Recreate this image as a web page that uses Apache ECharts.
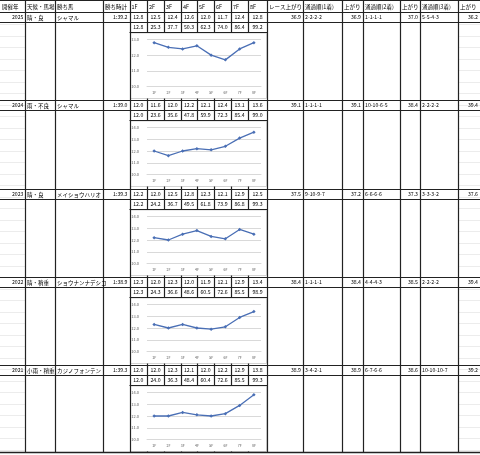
<!DOCTYPE html>
<html><head><meta charset="utf-8">
<script src="https://cdn.jsdelivr.net/npm/echarts@6/dist/echarts.min.js"></script>
<style>html,body{margin:0;padding:0;background:#fff}#c{width:480px;height:455px}</style>
</head><body><div id="c"></div>
<script>
const years = ['2025','2024','2023','2022','2021'];
const weather = ['晴・良','雨・不良','晴・良','晴・稍重','小雨・稍重'];
const winners = ['シャマル','シャマル','メイショウハリオ','ショウナンナデシコ','カジノフォンテン'];
const times = ['1:39.2','1:39.0','1:39.3','1:38.9','1:39.3'];
const lapLabels = ['1F','2F','3F','4F','5F','6F','7F','8F'];
const laps2025 = [12.8,12.5,12.4,12.6,12.0,11.7,12.4,12.8];
const laps2024 = [12.0,11.6,12.0,12.2,12.1,12.4,13.1,13.6];
const laps2023 = [12.2,12.0,12.5,12.8,12.3,12.1,12.9,12.5];
const laps2022 = [12.3,12.0,12.3,12.0,11.9,12.1,12.9,13.4];
const laps2021 = [12.0,12.0,12.3,12.1,12.0,12.2,12.9,13.8];
const cum2025 = ['12.8','25.3','37.7','50.3','62.3','74.0','86.4','99.2'];
const cum2024 = ['12.0','23.6','35.6','47.8','59.9','72.3','85.4','99.0'];
const cum2023 = ['12.2','24.2','36.7','49.5','61.8','73.9','86.8','99.3'];
const cum2022 = ['12.3','24.3','36.6','48.6','60.5','72.6','85.5','98.9'];
const cum2021 = ['12.0','24.0','36.3','48.4','60.4','72.6','85.5','99.3'];
const raceLast3F = ['36.9','39.1','37.5','38.4','38.9'];
const pass1 = ['2-2-2-2','1-1-1-1','9-10-9-7','1-1-1-1','3-4-2-1'];
const last1 = ['36.9','39.1','37.2','38.4','38.9'];
const pass2 = ['1-1-1-1','10-10-6-5','6-6-6-6','4-4-4-3','6-7-6-6'];
const last2 = ['37.0','38.4','37.3','38.5','38.6'];
const pass3 = ['5-5-4-3','2-2-2-2','3-3-3-2','2-2-2-2','10-10-10-7'];
const last3 = ['36.2','39.4','37.6','39.4','39.2'];
const yMaxes = [13,14,14,14,14];
const headers = ['開催年','天候・馬場','勝ち馬','勝ち時計','1F','2F','3F','4F','5F','6F','7F','8F','レース上がり','通過順(1着)','上がり','通過順(2着)','上がり','通過順(3着)','上がり'];

const allLaps = [laps2025,laps2024,laps2023,laps2022,laps2021];
const allCum = [cum2025,cum2024,cum2023,cum2022,cum2021];

// layout
const colX = [0,25,55,103,129.5,147,164,181,197,214,231,248,267,303,342,363,400,420,458,480];
const blockTops = [12,100,189,277,365];
const bottomY = 452;
const FONT = '"Noto Sans CJK JP","Noto Sans",sans-serif';
const LC = '#222';

const g = [];
function line(x1,y1,x2,y2,w,c){g.push({type:'line',silent:true,shape:{x1,y1,x2,y2},style:{stroke:c||LC,lineWidth:w||1}});}
function txt(s,x,y,align,size,color){g.push({type:'text',silent:true,x,y,style:{text:s,font:(size||5.5)+'px '+FONT,fontSize:size||5.5,fontFamily:FONT,fill:color||'#000',textAlign:align||'left',align:align||'left',textVerticalAlign:'middle',verticalAlign:'middle'}});}

// faint sheet gridlines
for(let y=24;y<bottomY;y+=11.5){ line(0,Math.round(y)+0.5,25,Math.round(y)+0.5,1,'#ececec'); line(458,Math.round(y)+0.5,480,Math.round(y)+0.5,1,'#ececec'); }

// header
line(0,0.5,480,0.5,1);
headers.forEach((h,i)=>{ txt(h, colX[i]+2, 6.5, 'left', 5.5); });

// horizontal lines
blockTops.forEach((t,k)=>{
  line(0,t+0.5,480,t+0.5,1.2);
  line(0,t+10.5,480,t+10.5,1.2);
  line(colX[4],t+20.5,colX[12],t+20.5,1.2);
});
line(0,bottomY+0.5,480,bottomY+0.5,1.5);

// vertical lines full height
[1,2,3,4,12,13,14,15,16,17,18].forEach(i=>{ const x=Math.round(colX[i])+0.5; line(x,0,x,bottomY,1.2); });
// lap columns: header + data rows + visible below chart
blockTops.forEach((t,k)=>{
  const next = k<4?blockTops[k+1]:bottomY;
  for(let i=5;i<12;i++){ const x=Math.round(colX[i])+0.5; line(x,t,x,t+20.5,1.2); line(x,t+86.5,x,next,1.2);}
});
for(let i=5;i<12;i++){ const x=Math.round(colX[i])+0.5; line(x,0,x,12,1.2);}

// row texts
blockTops.forEach((t,k)=>{
  const cy = t+5.5, cy2 = t+15.5;
  txt(years[k], colX[1]-1.5, cy, 'right', 5.2);
  txt(weather[k], colX[1]+2, cy, 'left', 5.5);
  txt(winners[k], colX[2]+2, cy, 'left', 5.5);
  txt(times[k], colX[4]-2, cy, 'right', 5.2);
  for(let i=0;i<8;i++){
    const xc=(colX[4+i]+colX[5+i])/2;
    txt(allLaps[k][i].toFixed(1), xc, cy, 'center', 5.2);
    txt(allCum[k][i], xc, cy2, 'center', 5.2);
  }
  txt(raceLast3F[k], colX[13]-2, cy, 'right', 5.2);
  txt(pass1[k], colX[13]+2, cy, 'left', 5.2);
  txt(last1[k], colX[15]-2, cy, 'right', 5.2);
  txt(pass2[k], colX[15]+2, cy, 'left', 5.2);
  txt(last2[k], colX[17]-2, cy, 'right', 5.2);
  txt(pass3[k], colX[17]+2, cy, 'left', 5.2);
  txt(last3[k], colX[19]-2, cy, 'right', 5.2);
  // chart box
  g.push({type:'rect',silent:true,shape:{x:130.5,y:t+21,width:136,height:65.5},style:{fill:'#fff',stroke:'#d4d4d4',lineWidth:1},z:-1});
});

const grids=[],xAxes=[],yAxes=[],series=[];
blockTops.forEach((t,k)=>{
  grids.push({left:147,width:114,top:t+27.5,height:47});
  xAxes.push({type:'category',gridIndex:k,data:lapLabels,boundaryGap:true,
    axisLine:{show:true,lineStyle:{color:'#d9d9d9',width:1}},axisTick:{show:false},
    axisLabel:{fontSize:3.6,color:'#595959',margin:4,fontFamily:FONT}});
  yAxes.push({type:'value',gridIndex:k,min:10,max:yMaxes[k],interval:1,
    axisLine:{show:false},axisTick:{show:false},
    splitLine:{lineStyle:{color:'#d9d9d9',width:1}},
    axisLabel:{fontSize:4,color:'#595959',margin:8,fontFamily:FONT,formatter:v=>v.toFixed(1)}});
  series.push({type:'line',xAxisIndex:k,yAxisIndex:k,data:allLaps[k],symbol:'diamond',symbolSize:3.5,
    lineStyle:{color:'#4a6fb5',width:1.3},itemStyle:{color:'#4a6fb5'},animation:false,z:3});
});

const chart = echarts.init(document.getElementById('c'),null,{renderer:'canvas'});
chart.setOption({animation:false,backgroundColor:'#fff',grid:grids,xAxis:xAxes,yAxis:yAxes,series:series,graphic:{elements:g}});
</script></body></html>
